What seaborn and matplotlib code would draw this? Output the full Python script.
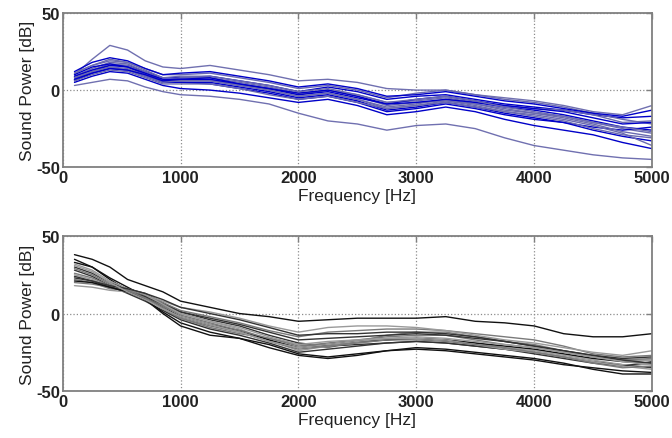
import numpy as np
import pandas as pd
import matplotlib
matplotlib.use("Agg")
import matplotlib.pyplot as plt
import seaborn as sns

freq = [100, 250, 400, 550, 700, 850, 1000, 1250, 1500, 1750, 2000, 2250,
        2500, 2750, 3000, 3250, 3500, 3750, 4000, 4250, 4500, 4750, 5000]

top_lines = {
    "T1": [10, 20, 29, 26, 19, 15, 14, 16, 13, 10, 6, 7, 5, 1, 0, 0, -3, -5, -7, -10, -14, -16, -10],
    "T2": [3, 5, 7, 6, 2, -1, -3, -4, -6, -9, -15, -20, -22, -26, -23, -22, -25, -31, -36, -39, -42, -44, -45],
    "T3": [7, 12, 16, 16, 12, 8, 8, 9, 6, 3, -1, 2, -1, -6, -4, -3, -6, -9, -11, -13, -16, -18, -17],
    "T4": [9, 14, 18, 17, 12, 7, 6, 6, 3, 0, -4, -2, -6, -11, -9, -6, -9, -13, -15, -17, -21, -25, -28],
    "T5": [6, 11, 14, 13, 9, 5, 5, 5, 2, -1, -5, -3, -7, -13, -11, -8, -11, -15, -18, -21, -26, -30, -33],
    "T6": [11, 16, 19, 18, 14, 10, 10, 11, 8, 5, 1, 3, 0, -5, -2, 0, -3, -6, -8, -11, -15, -19, -22],
    "T7": [5, 9, 12, 11, 7, 3, 1, 0, -2, -5, -8, -6, -10, -16, -14, -11, -14, -19, -23, -26, -29, -34, -38],
    "T8": [8, 13, 17, 16, 11, 6, 8, 8, 5, 2, -2, 0, -3, -8, -7, -5, -8, -10, -12, -13, -16, -21, -20],
    "T9": [10, 15, 17, 15, 10, 6, 5, 4, 1, -2, -6, -4, -8, -14, -12, -9, -12, -16, -19, -21, -24, -26, -24],
    "T10": [7, 12, 15, 14, 10, 6, 6, 7, 3, 1, -3, 0, -4, -10, -8, -7, -9, -12, -15, -18, -22, -27, -30],
    "T11": [12, 18, 21, 19, 14, 10, 11, 12, 9, 6, 2, 4, 1, -4, -3, -1, -4, -7, -9, -12, -15, -17, -13],
    "T12": [6, 10, 13, 12, 8, 4, 4, 4, 1, -3, -6, -4, -8, -12, -10, -7, -10, -14, -16, -19, -23, -28, -36],
    "T13": [9, 13, 16, 15, 11, 7, 7, 8, 4, 1, -3, -1, -5, -9, -8, -6, -8, -11, -13, -16, -20, -24, -26],
    "T14": [8, 12, 15, 13, 9, 5, 6, 6, 3, 0, -4, -2, -6, -12, -10, -8, -11, -14, -17, -20, -25, -29, -31],
    "T15": [7, 11, 14, 13, 10, 6, 7, 7, 4, 1, -2, 0, -4, -9, -6, -4, -7, -10, -12, -14, -18, -22, -21],
    "T16": [11, 16, 20, 18, 13, 8, 9, 9, 6, 3, -1, 1, -3, -8, -6, -4, -7, -11, -14, -17, -21, -24, -27],
}

bottom_lines = {
    "B1": [38, 35, 30, 22, 18, 14, 8, 4, 0, -2, -5, -4, -3, -3, -3, -2, -5, -6, -8, -13, -15, -15, -13],
    "B2": [20, 19, 17, 15, 10, 3, -3, -9, -13, -16, -20, -22, -18, -14, -12, -12, -15, -18, -20, -24, -28, -30, -29],
    "B3": [30, 26, 20, 16, 13, 7, 1, -4, -8, -14, -19, -21, -20, -19, -18, -19, -21, -23, -25, -28, -31, -33, -35],
    "B4": [25, 22, 17, 14, 10, 5, 0, -5, -10, -17, -24, -21, -19, -17, -16, -17, -19, -22, -24, -27, -30, -33, -33],
    "B5": [33, 30, 22, 15, 9, 0, -8, -14, -16, -20, -26, -28, -26, -24, -23, -24, -26, -28, -30, -33, -35, -37, -38],
    "B6": [22, 20, 16, 15, 12, 7, 2, -2, -6, -11, -15, -12, -11, -10, -10, -11, -13, -15, -17, -21, -26, -28, -27],
    "B7": [28, 24, 18, 13, 8, 2, -4, -10, -14, -19, -25, -23, -21, -19, -18, -19, -21, -23, -26, -29, -32, -34, -31],
    "B8": [18, 17, 15, 14, 12, 8, 4, 1, -3, -8, -12, -9, -8, -8, -9, -11, -14, -17, -19, -22, -25, -27, -24],
    "B9": [35, 30, 23, 17, 11, 4, -2, -7, -11, -17, -22, -20, -18, -17, -16, -17, -19, -21, -23, -26, -29, -31, -32],
    "B10": [26, 23, 18, 15, 11, 5, -1, -6, -11, -16, -21, -19, -17, -15, -14, -14, -17, -20, -22, -25, -28, -30, -30],
    "B11": [24, 21, 17, 14, 11, 6, 1, -3, -7, -12, -17, -16, -15, -14, -13, -14, -16, -18, -21, -24, -27, -29, -28],
    "B12": [32, 28, 21, 16, 12, 6, 0, -5, -9, -15, -20, -18, -17, -16, -16, -17, -20, -23, -25, -28, -31, -34, -36],
    "B13": [21, 20, 17, 14, 9, 1, -6, -12, -16, -22, -27, -29, -27, -24, -22, -23, -25, -27, -29, -32, -36, -39, -39],
    "B14": [29, 25, 19, 15, 10, 4, -3, -8, -12, -18, -23, -21, -19, -17, -17, -18, -20, -22, -25, -28, -32, -35, -34],
    "B15": [23, 21, 18, 16, 13, 9, 4, 0, -4, -9, -14, -13, -13, -12, -12, -13, -15, -18, -21, -24, -27, -30, -32],
    "B16": [31, 27, 20, 14, 9, 3, -2, -7, -12, -18, -22, -20, -18, -16, -15, -16, -18, -20, -22, -25, -28, -31, -33],
}

x_ticks = [0, 1000, 2000, 3000, 4000, 5000]
y_ticks = [-50, 0, 50]
x_label = "Frequency [Hz]"
y_label = "Sound Power [dB]"


def to_long(lines):
    rows = []
    for name, vals in lines.items():
        for f, v in zip(freq, vals):
            rows.append((name, f, v))
    return pd.DataFrame(rows, columns=["line", "freq", "db"])


sns.set_theme(style="white")
plt.rcParams["font.family"] = ["Liberation Sans", "DejaVu Sans"]
plt.rcParams["axes.unicode_minus"] = False

fig = plt.figure(figsize=(6.72, 4.39), dpi=100)
ax1 = fig.add_axes([0.0933, 0.617, 0.877, 0.351])
ax2 = fig.add_axes([0.0933, 0.107, 0.877, 0.353])

top_cols = ["#7070b0", "#7070b0"] + ["#0000c8", "#6a6ab0"] * 7
bot_cols = ["#111111", "#7a7a7a", "#333333", "#9a9a9a"] * 4

for ax, lines, cols in [(ax1, top_lines, top_cols), (ax2, bottom_lines, bot_cols)]:
    df = to_long(lines)
    sns.lineplot(data=df, x="freq", y="db", hue="line", palette=cols,
                 legend=False, linewidth=1.0, ax=ax, estimator=None, sort=False)
    ax.set_xlim(0, 5000)
    ax.set_ylim(-50, 50)
    ax.set_xticks(x_ticks)
    ax.set_yticks(y_ticks)
    ax.set_xlabel(x_label, fontsize=12.5, labelpad=2, color="#222222")
    ax.set_ylabel(y_label, fontsize=12.5, labelpad=1, color="#222222")
    ax.grid(True, linestyle=":", color="#8c8c8c", linewidth=0.9)
    for s in ax.spines.values():
        s.set_visible(True)
        s.set_color("#808080")
        s.set_linewidth(1.3)
    ax.tick_params(axis="both", direction="in", length=4, width=1, color="#808080",
                   labelsize=12, top=True, right=True, pad=2, labelcolor="#222222")
    for lab in ax.get_xticklabels() + ax.get_yticklabels():
        lab.set_fontweight("bold")

fig.savefig("out.png", dpi=100)
